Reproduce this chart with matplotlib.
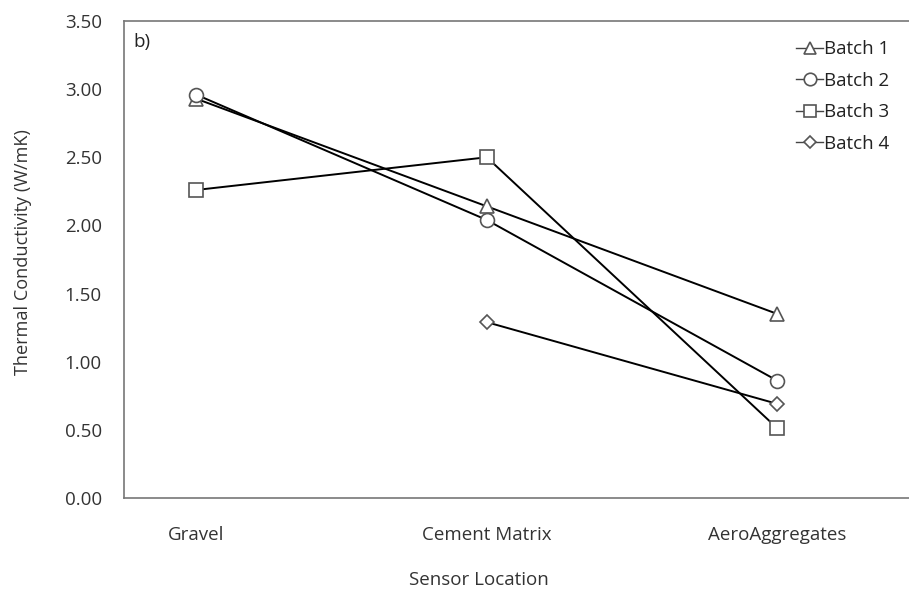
import matplotlib.pyplot as plt

# -----------------------------
# Data
# -----------------------------
locations = ["Gravel", "Cement Matrix", "AeroAggregates"]
batch1 = [2.93, 2.14, 1.35]
batch2 = [2.96, 2.04, 0.86]
batch3 = [2.26, 2.50, 0.51]
batch4 = [None, 1.29, 0.69]
y_ticks = [0.0, 0.5, 1.0, 1.5, 2.0, 2.5, 3.0, 3.5]

plt.rcParams['font.family'] = ['Open Sans', 'DejaVu Sans']
FS = 13.5
TXT = '#333333'

fig = plt.figure(figsize=(9.09, 5.90), dpi=100)
ax = fig.add_axes([0.1364, 0.156, 0.874, 0.8084])

edge = '#555555'
series = [
    ("Batch 1", batch1, '^', 10),
    ("Batch 2", batch2, 'o', 10),
    ("Batch 3", batch3, 's', 10),
    ("Batch 4", batch4, 'D', 7),
]
for label, vals, marker, ms in series:
    xs = [i for i, v in enumerate(vals) if v is not None]
    ys = [v for v in vals if v is not None]
    ax.plot(xs, ys, color='black', lw=1.4, marker=marker, markersize=ms,
            markerfacecolor='white', markeredgecolor=edge, markeredgewidth=1.2,
            label=label)

ax.set_xlim(-0.248, 2.485)
ax.set_ylim(0, 3.5)
ax.set_xticks(range(len(locations)))
ax.set_xticklabels(locations)
ax.set_yticks(y_ticks)
ax.set_yticklabels([f"{v:.2f}" for v in y_ticks])
ax.tick_params(axis='both', length=0, labelsize=FS, labelcolor=TXT)
ax.tick_params(axis='x', pad=20)
ax.tick_params(axis='y', pad=16)

for side in ['left', 'bottom', 'top']:
    ax.spines[side].set_color('#777777')
    ax.spines[side].set_linewidth(1.2)
ax.spines['right'].set_visible(False)

ax.set_ylabel("Thermal Conductivity (W/mK)", fontsize=13.1, color=TXT)
ax.yaxis.set_label_coords(-0.116, 0.516)
ax.set_xlabel("Sensor Location", fontsize=FS, color=TXT, va='top')
ax.xaxis.set_label_coords(0.447, -0.153)

ax.text(0.012, 0.975, "b)", transform=ax.transAxes, fontsize=FS,
        color='#222222', va='top', ha='left')

leg = ax.legend(loc='upper right', bbox_to_anchor=(0.985, 0.995), frameon=False,
                fontsize=FS, handlelength=1.45, handletextpad=0.05,
                labelspacing=0.72, labelcolor='#222222')
for h in leg.legend_handles:
    h.set_color('#444444')
    h.set_linewidth(1.0)
    h.set_markerfacecolor('white')
    h.set_markeredgecolor(edge)
    h.set_markersize(h.get_markersize() * 0.9)

fig.savefig("out.png", dpi=100)
